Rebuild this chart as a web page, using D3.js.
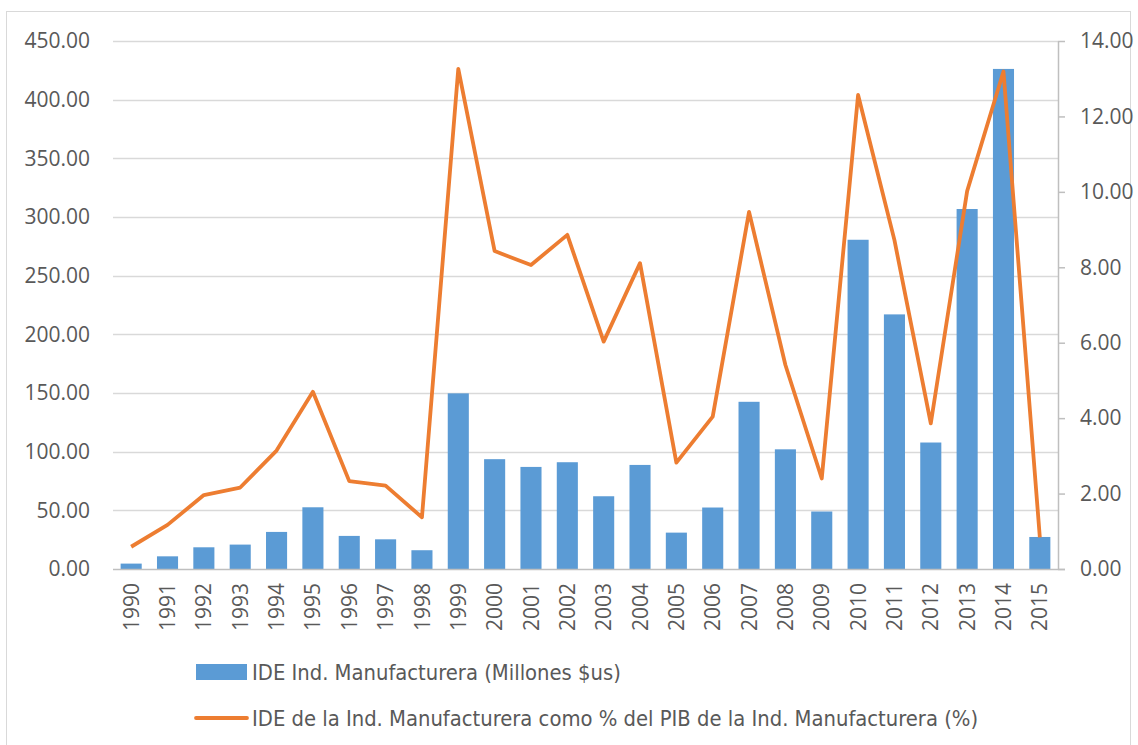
<!DOCTYPE html>
<html>
<head>
<meta charset="utf-8">
<script src="https://cdn.jsdelivr.net/npm/d3@7"></script>
<style>
  body { margin: 0; background: #fff; }
  svg text { fill: #595959; }
  .tick-label { font-family: "Open Sans", sans-serif; font-size: 21px; }
  .legend-label { font-family: "Liberation Sans Narrow", "DejaVu Sans Condensed", sans-serif; font-size: 21.8px; }
</style>
</head>
<body>
<svg width="1138" height="745"></svg>
<script>
var years = ["1990","1991","1992","1993","1994","1995","1996","1997","1998","1999","2000","2001","2002",
  "2003","2004","2005","2006","2007","2008","2009","2010","2011","2012","2013","2014","2015"];

// IDE Ind. Manufacturera (Millones $us)
var ideValues = [4.6, 10.8, 18.5, 20.8, 31.6, 52.6, 28.2, 25.3, 16.0, 149.7, 93.6, 87.0, 91.0,
  62.0, 88.7, 31.0, 52.4, 142.5, 102.0, 49.0, 280.6, 217.0, 107.8, 306.8, 426.2, 27.3];

// IDE como % del PIB de la Ind. Manufacturera
var pctValues = [0.59, 1.17, 1.96, 2.16, 3.14, 4.70, 2.33, 2.21, 1.37, 13.26, 8.43, 8.06, 8.86,
  6.03, 8.11, 2.82, 4.04, 9.47, 5.41, 2.40, 12.57, 8.72, 3.86, 10.02, 13.19, 0.84];

var leftTicks = [0, 50, 100, 150, 200, 250, 300, 350, 400, 450];
var rightTicks = [0, 2, 4, 6, 8, 10, 12, 14];

var barLabel = "IDE Ind. Manufacturera (Millones $us)";
var lineLabel = "IDE de la Ind. Manufacturera como % del PIB de la Ind. Manufacturera (%)";

var svg = d3.select("svg");

// outer chart border
svg.append("rect")
  .attr("x", 6.5).attr("y", 11.5)
  .attr("width", 1124).attr("height", 745)
  .attr("fill", "none").attr("stroke", "#d9d9d9");

var x0 = 113, x1 = 1058, yTop = 41, yBottom = 569;

var x = d3.scaleBand().domain(years).range([x0, x1]).paddingInner(0.42).paddingOuter(0.21);
var yLeft = d3.scaleLinear().domain([0, 450]).range([yBottom, yTop]);
var yRight = d3.scaleLinear().domain([0, 14]).range([yBottom, yTop]);

// gridlines
svg.append("g")
  .selectAll("line")
  .data(leftTicks.slice(1))
  .enter().append("line")
  .attr("x1", x0).attr("x2", x1)
  .attr("y1", function(d) { return Math.round(yLeft(d)) + 0.5; })
  .attr("y2", function(d) { return Math.round(yLeft(d)) + 0.5; })
  .attr("stroke", "#d9d9d9").attr("stroke-width", 1.5);

// left axis labels
var leftAxis = svg.append("g")
  .attr("transform", "translate(" + x0 + ",0)")
  .call(d3.axisLeft(yLeft).tickValues(leftTicks).tickSize(0).tickPadding(23)
    .tickFormat(d3.format(".2f")));
leftAxis.select(".domain").remove();
leftAxis.selectAll("text").attr("class", "tick-label").attr("fill", "#595959");

// bars
svg.append("g")
  .selectAll("rect")
  .data(years)
  .enter().append("rect")
  .attr("x", function(d) { return x(d); })
  .attr("width", x.bandwidth())
  .attr("y", function(d, i) { return yLeft(ideValues[i]); })
  .attr("height", function(d, i) { return yBottom - yLeft(ideValues[i]); })
  .attr("fill", "#5b9bd5");

// bottom axis
var bottomAxis = svg.append("g")
  .attr("transform", "translate(0," + yBottom + ")")
  .call(d3.axisBottom(x).tickSize(0).tickSizeOuter(0));
bottomAxis.select(".domain").attr("stroke", "#bfbfbf").attr("stroke-width", 1.5)
  .attr("d", "M" + x0 + ",0.5H" + (x1 + 7));
bottomAxis.selectAll("text")
  .attr("class", "tick-label")
  .attr("fill", "#595959")
  .attr("transform", "rotate(-90)")
  .attr("text-anchor", "end")
  .attr("x", -14)
  .attr("y", 0)
  .attr("dy", "0.36em");

// right axis
var rightAxis = svg.append("g")
  .attr("transform", "translate(" + x1 + ",0)")
  .call(d3.axisRight(yRight).tickValues(rightTicks).tickSize(7).tickSizeOuter(0).tickPadding(15)
    .tickFormat(d3.format(".2f")));
rightAxis.select(".domain").attr("stroke", "#bfbfbf").attr("stroke-width", 1.5);
rightAxis.selectAll("line").attr("stroke", "#bfbfbf").attr("stroke-width", 1.5);
rightAxis.selectAll("text").attr("class", "tick-label").attr("fill", "#595959");

// line
var line = d3.line()
  .x(function(d, i) { return x(years[i]) + x.bandwidth() / 2; })
  .y(function(d) { return yRight(d); });

svg.append("path")
  .datum(pctValues)
  .attr("d", line)
  .attr("fill", "none")
  .attr("stroke", "#ed7d31")
  .attr("stroke-width", 3.8)
  .attr("stroke-linejoin", "round");

// legend
var legend = svg.append("g");
legend.append("rect")
  .attr("x", 196).attr("y", 664).attr("width", 51).attr("height", 16)
  .attr("fill", "#5b9bd5");
legend.append("text")
  .attr("class", "legend-label")
  .attr("x", 252).attr("y", 672).attr("dy", "0.35em")
  .text(barLabel);
legend.append("line")
  .attr("x1", 196).attr("x2", 247).attr("y1", 718).attr("y2", 718)
  .attr("stroke", "#ed7d31").attr("stroke-width", 3.8)
  .attr("stroke-linecap", "round");
legend.append("text")
  .attr("class", "legend-label")
  .attr("x", 252).attr("y", 718).attr("dy", "0.35em")
  .text(lineLabel);
</script>
</body>
</html>
